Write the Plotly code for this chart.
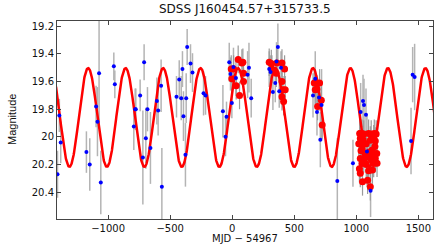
import numpy as np
import plotly.graph_objects as go

# Blue points (MJD - 54967, magnitude, error)
blue_t = [-1408, -1393, -1382, -1175, -1148, -1097, -1086, -1073, -1059, -954, -946,
          -793, -782, -777, -742, -720, -710, -696, -683, -659, -607, -597, -573, -567,
          -449, -427, -411, -401, -393, -377, -371, -363, -336, -320, -231, -215,
          -75, -54, -46, -24, -14, -3, 10, 30, 124, 135, 153,
          298, 309, 328, 347, 357, 368, 379, 393,
          651, 669, 683, 699, 710, 720, 847, 973,
          1035, 1054, 1062, 1078, 1086, 1115, 1441, 1454, 1470]
blue_m = [20.27, 19.845, 20.04, 20.11, 20.20, 19.78, 19.89, 19.54, 20.33, 19.49, 19.62,
          19.925, 19.80, 19.80, 19.70, 20.15, 19.46, 20.01, 19.80, 20.08, 19.74, 19.81, 19.63, 20.36,
          19.71, 19.585, 19.72, 19.51, 19.85, 20.13, 19.72, 19.35, 19.47, 19.535, 19.685, 19.70,
          19.815, 20.0, 19.855, 19.46, 19.545, 19.755, 19.495, 19.575, 19.55, 19.50, 19.72,
          19.51, 19.53, 19.675, 19.61, 19.455, 19.35, 19.67, 19.50,
          19.70, 19.58, 19.82, 19.715, 20.02, 19.77, 20.32, 20.19,
          19.82, 19.74, 19.77, 19.84, 20.105, 20.39, 20.03, 19.55, 19.567]
blue_e = [0.17, 0.12, 0.15, 0.15, 0.19, 0.15, 0.25, 0.40, 0.23, 0.10, 0.10,
          0.17, 0.15, 0.15, 0.115, 0.34, 0.13, 0.22, 0.16, 0.26, 0.17, 0.18, 0.19, 0.28,
          0.15, 0.14, 0.16, 0.13, 0.18, 0.23, 0.18, 0.13, 0.14, 0.14, 0.16, 0.14,
          0.19, 0.14, 0.11, 0.14, 0.12, 0.11, 0.14, 0.13, 0.17, 0.18, 0.14,
          0.13, 0.12, 0.13, 0.14, 0.14, 0.17, 0.12, 0.12,
          0.16, 0.20, 0.17, 0.10, 0.20, 0.26, 0.31, 0.17,
          0.21, 0.19, 0.19, 0.19, 0.26, 0.19, 0.24, 0.20, 0.24]

# Red points (large markers)
red_t = [-8, 11, 48, 78, 91, -3, 91, 32, 59, 86,
         298, 315, 360, 320, 422, 355, 401, 409, 427, 401, 414, 401,
         661, 669, 683, 704, 688, 718, 725, 669,
         1027, 1045, 1060, 1099, 1120, 1145, 1160,
         1032, 1055, 1113, 1140, 1153,
         1020, 1046, 1080, 1126, 1150,
         1038, 1070, 1105, 1135, 1165,
         1032, 1060, 1091, 1120, 1153,
         1046, 1080, 1140, 1167,
         1025, 1099, 1130,
         1032, 1091, 1113, 1050]
red_m = [19.51, 19.51, 19.44, 19.466, 19.54, 19.58, 19.60, 19.63, 19.70, 19.46,
         19.46, 19.47, 19.466, 19.51, 19.51, 19.54, 19.60, 19.66, 19.66, 19.71, 19.745, 19.466,
         19.61, 19.61, 19.655, 19.61, 19.78, 19.735, 19.915, 19.66,
         19.975, 19.975, 19.98, 19.975, 19.98, 19.975, 19.98,
         20.012, 20.02, 20.024, 20.015, 20.03,
         20.05, 20.06, 20.05, 20.096, 20.07,
         20.10, 20.12, 20.11, 20.13, 20.12,
         20.156, 20.16, 20.144, 20.165, 20.156,
         20.192, 20.20, 20.192, 20.19,
         20.23, 20.245, 20.24,
         20.264, 20.313, 20.361, 20.325]
red_e = [0.10] * len(red_t)

# Sinusoidal model parameters
period = 302.0
t_peak = 47.0
mean_mag = 19.86
amp = 0.357

x_tick_vals = [-1000, -500, 0, 500, 1000, 1500]
y_tick_vals = [19.2, 19.4, 19.6, 19.8, 20.0, 20.2, 20.4]
y_tick_text = ["19.2", "19.4", "19.6", "19.8", "20", "20.2", "20.4"]

t_model = np.linspace(-1420, 1630, 1500)
m_model = mean_mag - amp * np.cos(2 * np.pi * (t_model - t_peak) / period)

fig = go.Figure()
fig.add_trace(go.Scatter(x=blue_t, y=blue_m, mode="markers",
                         marker=dict(size=1, color="rgba(0,0,0,0)"),
                         error_y=dict(type="data", array=blue_e, visible=True,
                                      color="#b4b4b4", thickness=1.5, width=0)))
fig.add_trace(go.Scatter(x=red_t, y=red_m, mode="markers",
                         marker=dict(size=1, color="rgba(0,0,0,0)"),
                         error_y=dict(type="data", array=red_e, visible=True,
                                      color="#9a9a9a", thickness=1.2, width=0)))
fig.add_trace(go.Scatter(x=t_model, y=m_model, mode="lines",
                         line=dict(color="#ff0000", width=2.5)))
fig.add_trace(go.Scatter(x=red_t, y=red_m, mode="markers",
                         marker=dict(size=7, color="#ff0000", line=dict(width=0))))
fig.add_trace(go.Scatter(x=blue_t, y=blue_m, mode="markers",
                         marker=dict(size=4, color="#0000ff", line=dict(width=0))))

axis_common = dict(showline=True, linecolor="#444444", linewidth=1, mirror="ticks",
                   ticks="inside", ticklen=4, tickcolor="#444444", showgrid=False,
                   zeroline=False, automargin=False,
                   tickfont=dict(family="DejaVu Sans", size=10, color="#111111"))

fig.update_layout(
    width=436, height=245,
    margin=dict(l=57, r=3, t=21, b=26),
    paper_bgcolor="white", plot_bgcolor="white",
    showlegend=False,
    xaxis=dict(range=[-1412, 1618], tickvals=x_tick_vals, **axis_common),
    yaxis=dict(range=[20.594, 19.162], tickvals=y_tick_vals, ticktext=y_tick_text, **axis_common),
    annotations=[
        dict(text="SDSS J160454.57+315733.5", xref="paper", yref="paper", x=0.5, y=1,
             xanchor="center", yanchor="bottom", yshift=3, showarrow=False,
             font=dict(family="DejaVu Sans", size=12, color="#111111")),
        dict(text="MJD − 54967", xref="paper", yref="paper", x=0.5, y=0,
             xanchor="center", yanchor="middle", yshift=-19.5, showarrow=False,
             font=dict(family="DejaVu Sans", size=10, color="#111111")),
        dict(text="Magnitude", xref="paper", yref="paper", x=0, y=0.5, textangle=-90,
             xanchor="center", yanchor="middle", xshift=-45, showarrow=False,
             font=dict(family="Liberation Sans", size=11, color="#111111")),
    ],
)

fig.write_html("out.html", config={"displayModeBar": False},
               post_script="document.body.style.margin='0px';")
